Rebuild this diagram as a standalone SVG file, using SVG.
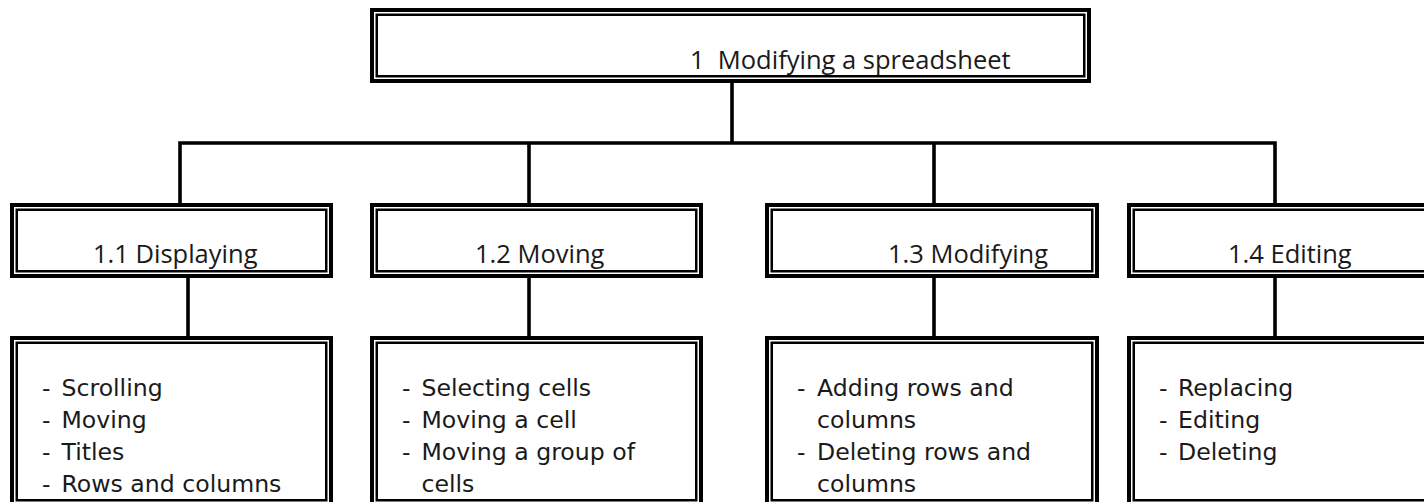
<svg xmlns="http://www.w3.org/2000/svg" width="1424" height="502" viewBox="0 0 1424 502">
<style>
.o{fill:none;stroke:#000;stroke-width:4}
.i{fill:none;stroke:#000;stroke-width:2.5}
.c{fill:none;stroke:#000;stroke-width:3.6;stroke-linejoin:miter}
.h{font-family:"Open Sans","Noto Sans",sans-serif;font-size:25.5px;fill:#1a1a1a;white-space:pre}
.l{font-family:"DejaVu Sans",sans-serif;font-size:23.6px;fill:#1a1a1a}
</style>
<rect width="1424" height="502" fill="#fff"/>
<g id="connectors">
<path class="c" d="M732 83 V143"/>
<path class="c" d="M180 203 V143 H1275 V203"/>
<path class="c" d="M529 143 V203"/>
<path class="c" d="M934 143 V203"/>
<path class="c" d="M188 278 V336"/>
<path class="c" d="M529 278 V336"/>
<path class="c" d="M934 278 V336"/>
<path class="c" d="M1275 278 V336"/>
</g>
<g id="n1">
<rect class="o" x="372" y="10" width="717" height="71"/>
<rect class="i" x="376.75" y="14.75" width="707.5" height="61.5"/>
<text class="h" x="690" y="69">1  Modifying a spreadsheet</text>
</g>
<g id="n1_1">
<rect class="o" x="12" y="205" width="319" height="71"/>
<rect class="i" x="16.75" y="209.75" width="309.5" height="61.5"/>
<text class="h" x="93" y="263">1.1 Displaying</text>
</g>
<g id="n1_2">
<rect class="o" x="372" y="205" width="329" height="71"/>
<rect class="i" x="376.75" y="209.75" width="319.5" height="61.5"/>
<text class="h" x="475" y="263">1.2 Moving</text>
</g>
<g id="n1_3">
<rect class="o" x="767" y="205" width="330" height="71"/>
<rect class="i" x="771.75" y="209.75" width="320.5" height="61.5"/>
<text class="h" x="888" y="263">1.3 Modifying</text>
</g>
<g id="n1_4">
<rect class="o" x="1129" y="205" width="339" height="71"/>
<rect class="i" x="1133.75" y="209.75" width="329.5" height="61.5"/>
<text class="h" x="1228" y="263">1.4 Editing</text>
</g>
<g id="l1_1">
<rect class="o" x="12" y="338" width="319" height="167"/>
<rect class="i" x="16.75" y="342.75" width="309.5" height="157.5"/>
<text class="l" x="42" y="396">-</text><text class="l" x="61.5" y="396">Scrolling</text>
<text class="l" x="42" y="428">-</text><text class="l" x="61.5" y="428">Moving</text>
<text class="l" x="42" y="460">-</text><text class="l" x="61.5" y="460">Titles</text>
<text class="l" x="42" y="492">-</text><text class="l" x="61.5" y="492">Rows and columns</text>
</g>
<g id="l1_2">
<rect class="o" x="372" y="338" width="329" height="167"/>
<rect class="i" x="376.75" y="342.75" width="319.5" height="157.5"/>
<text class="l" x="402" y="396">-</text><text class="l" x="421.5" y="396">Selecting cells</text>
<text class="l" x="402" y="428">-</text><text class="l" x="421.5" y="428">Moving a cell</text>
<text class="l" x="402" y="460">-</text><text class="l" x="421.5" y="460">Moving a group of</text>
<text class="l" x="421.5" y="492">cells</text>
</g>
<g id="l1_3">
<rect class="o" x="767" y="338" width="330" height="167"/>
<rect class="i" x="771.75" y="342.75" width="320.5" height="157.5"/>
<text class="l" x="797" y="396">-</text><text class="l" x="817" y="396">Adding rows and</text>
<text class="l" x="817" y="428">columns</text>
<text class="l" x="797" y="460">-</text><text class="l" x="817" y="460">Deleting rows and</text>
<text class="l" x="817" y="492">columns</text>
</g>
<g id="l1_4">
<rect class="o" x="1129" y="338" width="339" height="167"/>
<rect class="i" x="1133.75" y="342.75" width="329.5" height="157.5"/>
<text class="l" x="1159" y="396">-</text><text class="l" x="1178" y="396">Replacing</text>
<text class="l" x="1159" y="428">-</text><text class="l" x="1178" y="428">Editing</text>
<text class="l" x="1159" y="460">-</text><text class="l" x="1178" y="460">Deleting</text>
</g>
</svg>
